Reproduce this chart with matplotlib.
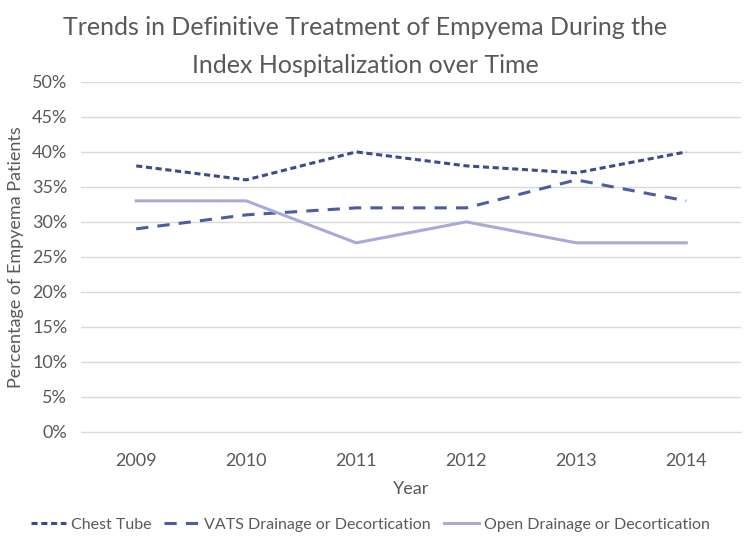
import matplotlib
matplotlib.use("Agg")
import matplotlib.pyplot as plt
from matplotlib.ticker import PercentFormatter

years = ["2009", "2010", "2011", "2012", "2013", "2014"]
chest_tube = [38, 36, 40, 38, 37, 40]
vats = [29, 31, 32, 32, 36, 33]
open_drain = [33, 33, 27, 30, 27, 27]

plt.rcParams['font.family'] = ['Lato', 'DejaVu Sans']
txt = '#595959'

fig = plt.figure(figsize=(7.45, 5.39), dpi=100)
ax = fig.add_axes([0.109, 0.199, 0.886, 0.649])
x = list(range(len(years)))
ax.plot(x, chest_tube, color='#3f4a8c', lw=2.2, linestyle=(0, (2.0, 1.2)), label='Chest Tube')
ax.plot(x, vats, color='#4d5ca3', lw=2.2, linestyle=(0, (4.0, 3.0)), label='VATS Drainage or Decortication')
ax.plot(x, open_drain, color='#aaaad8', lw=2.2, label='Open Drainage or Decortication')

ax.set_xlim(-0.5, 5.5)
ax.set_ylim(0, 50)
ax.set_yticks(range(0, 51, 5))
ax.yaxis.set_major_formatter(PercentFormatter(decimals=0))
ax.set_xticks(x)
ax.set_xticklabels(years)
ax.grid(axis='y', color='#d9d9d9', lw=1)
ax.set_axisbelow(True)
for s in ['top', 'right', 'left']:
    ax.spines[s].set_visible(False)
ax.spines['bottom'].set_color('#d9d9d9')
ax.tick_params(axis='x', length=0, labelsize=13, colors=txt, pad=15)
ax.tick_params(axis='y', length=0, labelsize=13, colors=txt, pad=10)
ax.set_xlabel('Year', fontsize=13, color=txt, labelpad=9)
ax.set_ylabel('Percentage of Empyema Patients', fontsize=13, color=txt, labelpad=6)
fig.text(0.49, 0.97, 'Trends in Definitive Treatment of Empyema During the\nIndex Hospitalization over Time',
         fontsize=18, color=txt, ha='center', va='top', linespacing=1.8)
fig.legend(loc='lower center', ncol=3, frameon=False, fontsize=11.5, labelcolor=txt,
           bbox_to_anchor=(0.497, -0.013), handlelength=2.2, columnspacing=0.8, handletextpad=0.3)
fig.savefig('out.png', dpi=100)
